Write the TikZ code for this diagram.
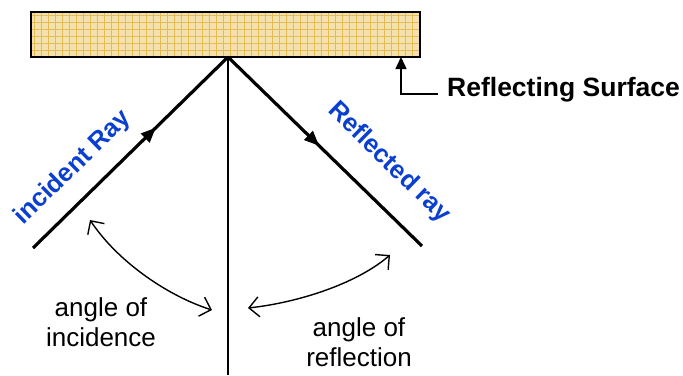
\documentclass[tikz,border=0pt]{standalone}
\usepackage{fontspec}
\setmainfont{Liberation Sans}
\usetikzlibrary{arrows.meta,decorations.markings}
\definecolor{surfacefill}{HTML}{F3E2AE}
\definecolor{surfacegrid}{HTML}{E4BC55}
\definecolor{raylabel}{HTML}{0A3FD0}
\tikzset{
  ray/.style={line width=3.2pt},
  raytip/.style={postaction={decorate},decoration={markings,
     mark=at position #1 with {\arrow{Triangle[length=15pt,width=12pt]}}}},
  anglearc/.style={line width=1.4pt,{Straight Barb[length=10pt,width=20pt]}-{Straight Barb[length=10pt,width=20pt]}},
  raytext/.style={text=raylabel,font=\bfseries\fontsize{25.5}{30}\selectfont},
  plaintext/.style={font=\fontsize{26}{30}\selectfont,align=center},
}
\begin{document}
\begin{tikzpicture}[x=1pt,y=-1pt]
  \useasboundingbox (0,0) rectangle (683,375);
  % mirror block with its woven texture
  \fill[surfacefill] (31,12) rectangle (420,57);
  \begin{scope}
    \clip (31,12) rectangle (420,57);
    \foreach \gx in {34,41,...,420} \draw[surfacegrid,line width=0.9pt] (\gx,12) -- (\gx,57);
    \foreach \gy in {15,22,...,57} \draw[surfacegrid,line width=0.9pt] (31,\gy) -- (420,\gy);
  \end{scope}
  \draw[line width=1.8pt] (31,12) rectangle (420,57);

  % points of the ray construction
  \coordinate (P) at (228,57);
  \coordinate (I) at (33,248);
  \coordinate (R) at (422,246);
  \coordinate (N) at (228,375);

  % normal, incident and reflected rays
  \draw[line width=1.4pt] (P) -- (N);
  \draw[ray,raytip=0.63] (I) -- (P);
  \draw[ray,raytip=0.47] (P) -- (R);

  \node[raytext,rotate=44.4] (inc) at (73,168) {incident Ray};
  \node[raytext,rotate=-44.3] (refl) at (389,163) {Reflected ray};

  % pointer to the surface
  \coordinate (S) at (401,57);
  \node[font=\bfseries\fontsize{26.5}{30}\selectfont,anchor=west,inner sep=0pt] (surf) at (447,90) {Reflecting Surface};
  \draw[line width=1.4pt,-{Triangle[length=12pt,width=11pt]}] (438,94) -- (401,94) -- (S);

  % angle markers
  \coordinate (a1) at (90,220);
  \coordinate (a2) at (212,310);
  \coordinate (b1) at (248,308);
  \coordinate (b2) at (390,255);
  \draw[anglearc] (a1) .. controls (118,262) and (168,296) .. (a2);
  \draw[anglearc] (b1) .. controls (295,303) and (355,285) .. (b2);

  \node[plaintext] (ai) at (101,322) {angle of\\incidence};
  \node[plaintext] (ar) at (359,342) {angle of\\reflection};
\end{tikzpicture}
\end{document}
